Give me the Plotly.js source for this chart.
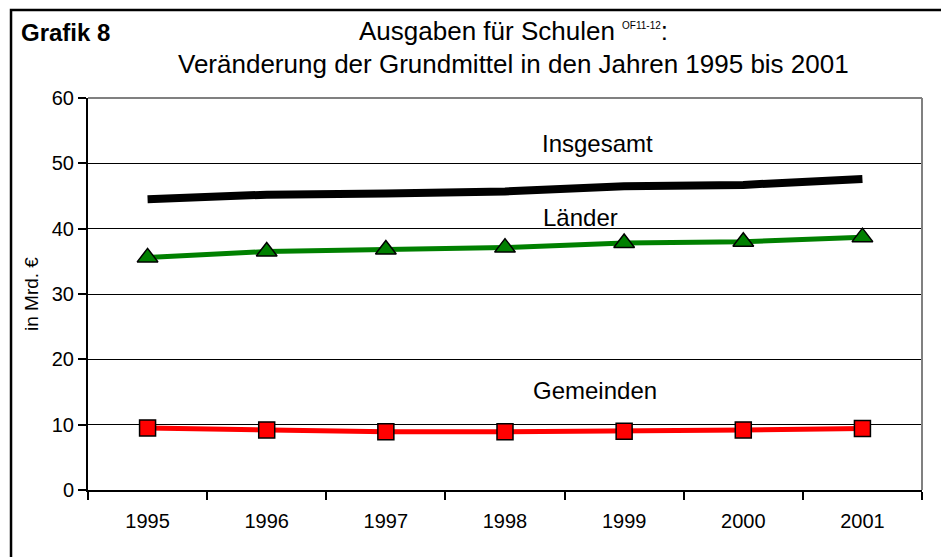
<!DOCTYPE html>
<html>
<head>
<meta charset="utf-8">
<script src="https://cdn.plot.ly/plotly-3.0.1.min.js"></script>
<style>
  html, body { margin: 0; padding: 0; background: #fff; }
  #plot { width: 941px; height: 557px; }
</style>
</head>
<body>
<div id="plot"></div>
<script>
// Grundmittel fuer Schulen, in Mrd. Euro
var jahre = ["1995", "1996", "1997", "1998", "1999", "2000", "2001"];
var insgesamt = [44.5, 45.2, 45.4, 45.7, 46.5, 46.7, 47.6];
var laender = [35.6, 36.5, 36.8, 37.1, 37.8, 38.0, 38.7];
var gemeinden = [9.5, 9.2, 8.9, 8.9, 9.0, 9.2, 9.4];

var fnt = "Liberation Sans, Arial, sans-serif";

var tInsg = {
    x: jahre, y: insgesamt, type: "scatter", mode: "lines",
    line: { color: "#000000", width: 8 }
};
var tLaender = {
    x: jahre, y: laender, type: "scatter", mode: "lines+markers",
    line: { color: "#008000", width: 5 },
    marker: { symbol: "triangle-up", size: 18, color: "#008000", line: { color: "#000", width: 1.5 } }
};
var tGem = {
    x: jahre, y: gemeinden, type: "scatter", mode: "lines+markers",
    line: { color: "#ff0000", width: 5 },
    marker: { symbol: "square", size: 16, color: "#ff0000", line: { color: "#000", width: 1.5 } }
};

var layout = {
    width: 941, height: 557,
    margin: { l: 88, r: 19, t: 98, b: 67 },
    paper_bgcolor: "#fff", plot_bgcolor: "#fff",
    showlegend: false,
    font: { family: fnt, color: "#000", size: 20 },
    xaxis: {
        type: "category", range: [-0.5, 6.5],
        showline: true, linecolor: "#000", linewidth: 2,
        ticks: "outside", tickson: "boundaries", ticklen: 8, tickwidth: 2, tickcolor: "#000",
        ticklabelstandoff: 12,
        showgrid: false, zeroline: false,
        tickfont: { size: 20 }, fixedrange: true
    },
    yaxis: {
        range: [0, 60], dtick: 10,
        showline: true, linecolor: "#000", linewidth: 2,
        ticks: "outside", ticklen: 8, tickwidth: 2, tickcolor: "#000",
        showgrid: true, gridcolor: "#000", gridwidth: 1, zeroline: false,
        tickfont: { size: 20 },
        title: { text: "in Mrd. €", font: { size: 19 }, standoff: 8 },
        fixedrange: true
    },
    shapes: [
        // outer frame
        { type: "rect", xref: "paper", yref: "paper", x0: -0.0923, x1: 1.1, y0: -0.3, y1: 1.2245,
          line: { color: "#000", width: 2.5 }, layer: "below" },
        // grey top and right edge of plot area
        { type: "line", xref: "paper", yref: "paper", x0: 0, x1: 1, y0: 1, y1: 1, line: { color: "#808080", width: 2 } },
        { type: "line", xref: "paper", yref: "paper", x0: 1, x1: 1, y0: 0, y1: 1, line: { color: "#808080", width: 2 } }
    ],
    annotations: [
        { text: "<b>Grafik 8</b>", xref: "paper", yref: "paper", x: -0.0827, y: 1.168,
          xanchor: "left", yanchor: "middle", showarrow: false, font: { size: 24 } },
        { text: "Ausgaben für Schulen <sup><span style='font-size:10px'>OF11-12</span></sup>:", xref: "paper", yref: "paper", x: 0.51, y: 1.171,
          xanchor: "center", yanchor: "middle", showarrow: false, font: { size: 26 } },
        { text: "Veränderung der Grundmittel in den Jahren 1995 bis 2001", xref: "paper", yref: "paper", x: 0.51, y: 1.087,
          xanchor: "center", yanchor: "middle", showarrow: false, font: { size: 26 } },
        { text: "Insgesamt", xref: "paper", yref: "paper", x: 0.6115, y: 0.885,
          xanchor: "center", yanchor: "middle", showarrow: false, font: { size: 24 } },
        { text: "Länder", xref: "paper", yref: "paper", x: 0.59, y: 0.694,
          xanchor: "center", yanchor: "middle", showarrow: false, font: { size: 24 } },
        { text: "Gemeinden", xref: "paper", yref: "paper", x: 0.608, y: 0.255,
          xanchor: "center", yanchor: "middle", showarrow: false, font: { size: 24 } }
    ]
};

Plotly.newPlot("plot", [tInsg, tLaender, tGem], layout, { displayModeBar: false, staticPlot: true });
</script>
</body>
</html>
